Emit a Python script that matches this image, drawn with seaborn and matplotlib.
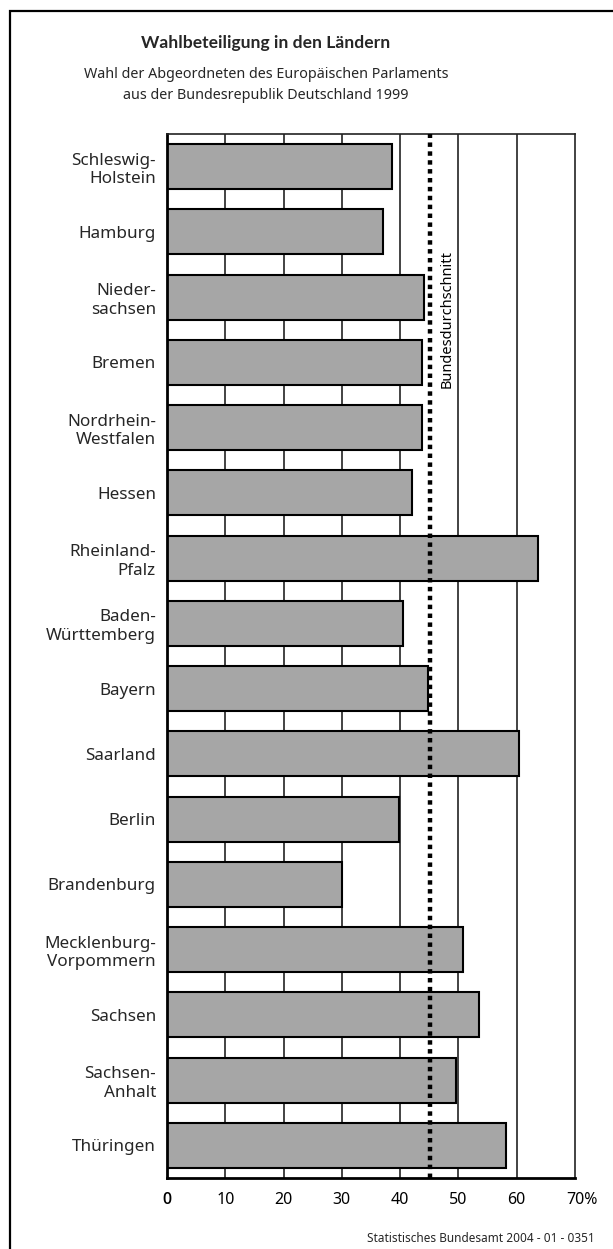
import matplotlib
matplotlib.use("Agg")
import matplotlib.pyplot as plt
import matplotlib.transforms as mtransforms
from matplotlib.patches import Rectangle
import seaborn as sns
import pandas as pd

laender = ["Schleswig-\nHolstein", "Hamburg", "Nieder-\nsachsen", "Bremen",
           "Nordrhein-\nWestfalen", "Hessen", "Rheinland-\nPfalz", "Baden-\nWürttemberg",
           "Bayern", "Saarland", "Berlin", "Brandenburg",
           "Mecklenburg-\nVorpommern", "Sachsen", "Sachsen-\nAnhalt", "Thüringen"]
beteiligung = [38.6, 37.0, 44.1, 43.7, 43.7, 42.0, 63.7, 40.5,
               44.7, 60.4, 39.8, 30.0, 50.8, 53.6, 49.5, 58.1]
bundesdurchschnitt = 45.2
xticks = [0, 10, 20, 30, 40, 50, 60, 70]
xticklabels = ["0", "10", "20", "30", "40", "50", "60", "70%"]

title = "Wahlbeteiligung in den Ländern"
subtitle = "Wahl der Abgeordneten des Europäischen Parlaments\naus der Bundesrepublik Deutschland 1999"
source = "Statistisches Bundesamt 2004 - 01 - 0351"

sns.set_style("white")
plt.rcParams["font.family"] = ["Noto Sans", "DejaVu Sans"]

df = pd.DataFrame({"Land": laender, "Wert": beteiligung})

W, H, DPI = 613, 1249, 100
fig = plt.figure(figsize=(W / DPI, H / DPI), dpi=DPI)
ax = fig.add_axes([167 / W, 1 - 1178 / H, (575 - 167) / W, (1178 - 134) / H])

ax.set_axisbelow(True)
for t in xticks[1:-1]:
    ax.axvline(t, color="#222222", lw=1.2, zorder=0)

sns.barplot(data=df, x="Wert", y="Land", orient="h", color="#a6a6a6",
            edgecolor="black", linewidth=1.5, width=0.69, saturation=1, ax=ax, zorder=2)

ax.axvline(bundesdurchschnitt, color="black", lw=3.2, linestyle=(0, (1, 1)), zorder=3)
ax.text(bundesdurchschnitt + 2.8, 1.28, "Bundesdurchschnitt", rotation=90,
        ha="center", va="top", fontsize=10.5, color="black", zorder=4)

ax.set_xlim(0, 70)
ax.set_ylim(15.5, -0.5)
ax.set_xlabel("")
ax.set_ylabel("")

ax.set_xticks(xticks)
ax.set_xticklabels(xticklabels, fontsize=11.5)
ax.get_xticklabels()[0].set_fontweight("semibold")
ax.get_xticklabels()[0].set_family(["Open Sans", "DejaVu Sans"])
ax.tick_params(axis="x", direction="out", length=5, width=1.5, pad=5, colors="black")
ax.tick_params(axis="y", length=0, pad=8)
for lbl in ax.get_yticklabels():
    lbl.set_fontsize(12.3)
    lbl.set_multialignment("right")

lbl70 = ax.get_xticklabels()[-1]
lbl70.set_transform(lbl70.get_transform() +
                    mtransforms.ScaledTranslation(5 / 72, 0, fig.dpi_scale_trans))

for side in ["top", "right"]:
    ax.spines[side].set_visible(True)
    ax.spines[side].set_linewidth(1.2)
    ax.spines[side].set_color("#222222")
for side in ["left", "bottom"]:
    ax.spines[side].set_linewidth(2.0)
    ax.spines[side].set_color("black")

cx = 266 / W
fig.text(cx, 1 - 43 / H, title, ha="center", va="center", fontsize=12.6,
         fontweight="bold", family=["Lato", "DejaVu Sans"])
fig.text(cx, 1 - 85 / H, subtitle, ha="center", va="center", fontsize=10.3, linespacing=1.6)
fig.text(595 / W, 1 - 1239 / H, source, ha="right", va="center", fontsize=8.5)

fig.patches.append(Rectangle((10 / W, -0.05), 1.2, 1 - 11 / H + 0.05, transform=fig.transFigure,
                             fill=False, edgecolor="black", lw=1.6, figure=fig))

fig.savefig("out.png", dpi=DPI)
